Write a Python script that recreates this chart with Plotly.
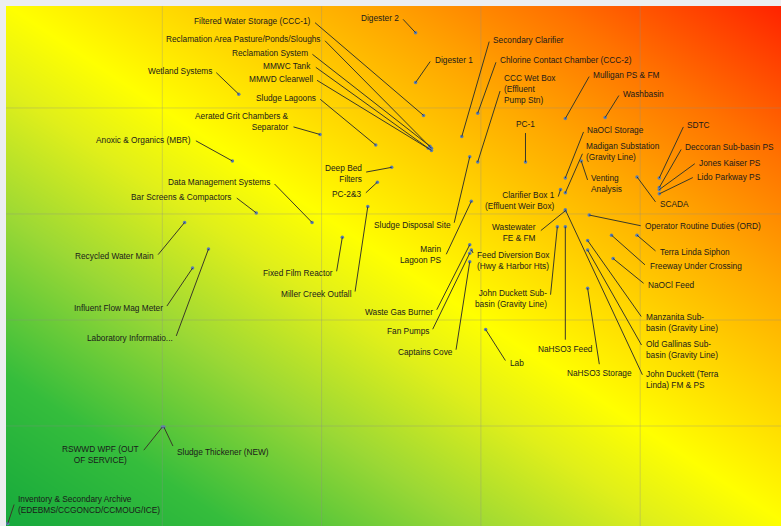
import plotly.graph_objects as go

# ---------------- data ----------------
names = [
    "Filtered Water Storage (CCC-1)",
    "Reclamation Area Pasture/Ponds/Sloughs",
    "Reclamation System",
    "MMWC Tank",
    "MMWD Clearwell",
    "Sludge Lagoons",
    "Wetland Systems",
    "Aerated Grit Chambers &<br>Separator",
    "Anoxic & Organics (MBR)",
    "Digester 2",
    "Digester 1",
    "Secondary Clarifier",
    "Chlorine Contact Chamber (CCC-2)",
    "CCC Wet Box<br>(Effluent<br>Pump Stn)",
    "PC-1",
    "Mulligan PS & FM",
    "Washbasin",
    "NaOCl Storage",
    "Madigan Substation<br>(Gravity Line)",
    "Venting<br>Analysis",
    "SCADA",
    "SDTC",
    "Deccoran Sub-basin PS",
    "Jones Kaiser PS",
    "Lido Parkway PS",
    "Operator Routine Duties (ORD)",
    "Terra Linda Siphon",
    "Freeway Under Crossing",
    "NaOCl Feed",
    "Manzanita Sub-<br>basin (Gravity Line)",
    "Old Gallinas Sub-<br>basin (Gravity Line)",
    "John Duckett (Terra<br>Linda) FM & PS",
    "NaHSO3 Storage",
    "NaHSO3 Feed",
    "John Duckett Sub-<br>basin (Gravity Line)",
    "Wastewater<br>FE & FM",
    "Clarifier Box 1<br>(Effluent Weir Box)",
    "Sludge Disposal Site",
    "Marin<br>Lagoon PS",
    "Feed Diversion Box<br>(Hwy & Harbor Hts)",
    "Waste Gas Burner",
    "Fan Pumps",
    "Captains Cove",
    "Lab",
    "Deep Bed<br>Filters",
    "PC-2&3",
    "Fixed Film Reactor",
    "Miller Creek Outfall",
    "Data Management Systems",
    "Bar Screens & Compactors",
    "Recycled Water Main",
    "Influent Flow Mag Meter",
    "Laboratory Informatio...",
    "RSWWD WPF (OUT<br>OF SERVICE)",
    "Sludge Thickener (NEW)",
    "Inventory & Secondary Archive<br>(EDEBMS/CCGONCD/CCMOUG/ICE)",
]

likelihood = [2.64, 2.69, 2.68, 2.67, 2.69, 2.34, 1.48, 1.99, 1.44, 2.59,
              2.59, 2.88, 2.98, 2.98, 3.28, 3.53, 3.78, 3.53, 3.53, 3.63,
              3.98, 4.12, 4.12, 4.12, 4.12, 3.68, 3.98, 3.82, 3.83, 3.67,
              3.67, 3.53, 3.67, 3.53, 3.48, 3.53, 3.50, 2.93, 2.94, 2.94,
              2.93, 2.93, 2.93, 3.03, 2.44, 2.35, 2.13, 2.29, 1.94, 1.59,
              1.14, 1.19, 1.29, 1.00, 1.01, 0.03]

consequence = [3.93, 3.62, 3.64, 3.62, 3.60, 3.65, 4.13, 3.75, 3.50, 4.71,
               4.24, 3.73, 3.95, 3.49, 3.49, 3.90, 3.91, 3.34, 3.20, 3.50,
               3.35, 3.34, 3.25, 3.23, 3.19, 2.99, 2.80, 2.80, 2.58, 2.75,
               2.66, 3.04, 2.30, 2.88, 2.88, 3.03, 3.23, 3.54, 3.12, 2.66,
               2.71, 2.63, 2.55, 1.91, 3.44, 3.30, 2.78, 3.07, 2.92, 3.01,
               2.92, 2.49, 2.67, 0.99, 0.99, 0.08]

grid_ticks = [1, 2, 3, 4]

# background risk field (corner scores, interpolated)
bg_x = [-0.5, 5.5]
bg_y = [-0.5, 5.5]
bg_score = [[-1, 5], [5, 11]]

# ---------------- label layout (pixel offsets: dx, dy, side, vshift) ----------------
label_layout = [
    (-110, -94, 'L', 0), (-108, -109, 'L', 0), (-119, -93, 'L', 0), (-114, -82, 'L', 0),
    (-116, -71, 'L', 0), (-57, -47, 'L', 0), (-24, -23, 'L', 0), (-28, -8, 'L', -5),
    (-38, -21, 'L', 0), (-14, -15, 'L', 0), (16, -23, 'R', 0), (28, -97, 'R', 0),
    (19, -53, 'R', 0), (23, -73, 'R', 0), (0, -31, 'T', 0), (25, -44, 'R', 0),
    (15, -24, 'R', 0), (19, -48, 'R', 0), (18, -41, 'R', 0), (7, 21, 'R', 2),
    (20, 27, 'R', 0), (25, -53, 'R', 0), (23, -40, 'R', 0), (37, -27, 'R', 0),
    (35, -17, 'R', 0), (53, 11, 'R', 0), (20, 17, 'R', 0), (35, 31, 'R', 0),
    (32, 26, 'R', 0), (55, 78, 'R', 4), (55, 97, 'R', 2), (78, 167, 'R', 3),
    (12, 78, 'B', 0), (0, 115, 'B', 0), (-7, 70, 'L', 2), (-26, 21, 'L', 1),
    (-3, 9, 'L', 2), (-16, 68, 'L', 0), (-26, 55, 'L', -2), (3, 5, 'R', 5),
    (-34, 67, 'L', 0), (-38, 78, 'L', 0), (-14, 90, 'L', 0), (21, 33, 'R', 0),
    (-27, 5, 'L', 1), (-13, 12, 'L', 0), (-6, 36, 'L', 0), (-13, 87, 'L', 0),
    (-39, -40, 'L', 0), (-21, -16, 'L', 0), (-28, 34, 'L', 0), (-27, 40, 'L', 0),
    (-33, 89, 'L', 0), (-20, 25, 'C', 2), (10, 21, 'R', 4), (7, -21, 'R', 2),
]

colorscale = [
    [0.00, "#14a83c"], [0.15, "#35bd3c"], [0.30, "#9bd835"], [0.42, "#e0ef1a"],
    [0.50, "#ffff00"], [0.60, "#ffd800"], [0.72, "#ffa800"], [0.84, "#ff7200"],
    [0.94, "#ff3c00"], [1.00, "#ff1a00"],
]

LINE_COLOR = "#3a3a28"
TEXT_COLOR = "#1a1a1a"
FONT = "Liberation Sans, Arial, sans-serif"
FONT_SIZE = 8.3

fig = go.Figure()

fig.add_trace(go.Heatmap(
    x=bg_x, y=bg_y, z=bg_score, zmin=0, zmax=10, zsmooth="best",
    colorscale=colorscale, showscale=False, hoverinfo="skip",
))

fig.add_trace(go.Scatter(
    x=likelihood, y=consequence, mode="markers",
    marker=dict(size=3.5, color="#5a7fb5"),
    hoverinfo="text", text=names, showlegend=False,
))

shapes = []
for t in grid_ticks:
    shapes.append(dict(type="line", xref="x", yref="paper", x0=t, x1=t, y0=0, y1=1,
                       line=dict(color="rgba(140,140,140,0.32)", width=1), layer="above"))
    shapes.append(dict(type="line", xref="paper", yref="y", x0=0, x1=1, y0=t, y1=t,
                       line=dict(color="rgba(140,140,140,0.32)", width=1), layer="above"))

annotations = []
GAP = 2
for name, xv, yv, lay in zip(names, likelihood, consequence, label_layout):
    dx, dy, side, vs = lay
    # leader line
    annotations.append(dict(
        x=xv, y=yv, xref="x", yref="y", text=" ", showarrow=True,
        ax=dx, ay=dy, axref="pixel", ayref="pixel",
        arrowhead=0, arrowwidth=1, arrowcolor=LINE_COLOR, standoff=0,
        font=dict(size=1),
    ))
    # label text
    if side == 'L':
        xs, ys, xa, ya, al = dx - GAP, -(dy + vs), "right", "middle", "right"
    elif side == 'C':
        xs, ys, xa, ya, al = dx - GAP, -(dy + vs), "right", "middle", "center"
    elif side == 'R':
        xs, ys, xa, ya, al = dx + GAP, -(dy + vs), "left", "middle", "left"
    elif side == 'T':
        xs, ys, xa, ya, al = dx, -(dy - 1), "center", "bottom", "center"
    else:  # 'B'
        xs, ys, xa, ya, al = dx, -(dy + 1), "center", "top", "center"
    annotations.append(dict(
        x=xv, y=yv, xref="x", yref="y", text=name, showarrow=False,
        xshift=xs, yshift=ys, xanchor=xa, yanchor=ya, align=al,
        font=dict(size=FONT_SIZE, color=TEXT_COLOR, family=FONT),
        borderpad=0,
    ))

fig.update_layout(
    width=781, height=526,
    margin=dict(l=6, r=0, t=6, b=0),
    paper_bgcolor="#eceef0", plot_bgcolor="#eceef0",
    xaxis=dict(range=[0.0188, 4.884], showgrid=False, zeroline=False,
               showticklabels=False, ticks="", fixedrange=True),
    yaxis=dict(range=[0.0566, 4.962], showgrid=False, zeroline=False,
               showticklabels=False, ticks="", fixedrange=True),
    shapes=shapes,
    annotations=annotations,
    showlegend=False,
    hovermode=False,
    font=dict(family=FONT),
)

fig.write_html(
    "out.html",
    config={"displayModeBar": False, "staticPlot": True},
    post_script="document.body.style.margin='0px';document.body.style.overflow='hidden';",
)
